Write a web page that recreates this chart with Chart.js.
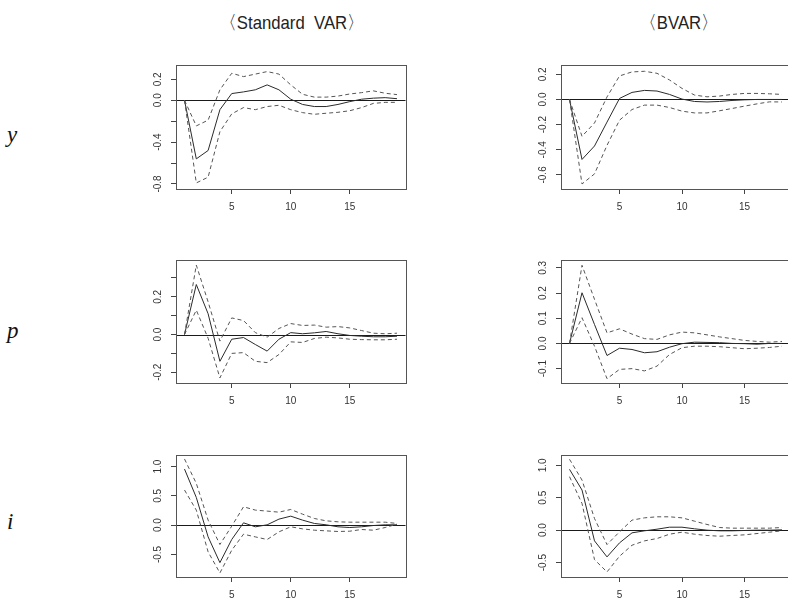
<!DOCTYPE html>
<html>
<head>
<meta charset="utf-8">
<script src="https://cdn.jsdelivr.net/npm/chart.js@4.4.1/dist/chart.umd.min.js"></script>
<style>
    html, body { margin: 0; padding: 0; background: #fff; width: 788px; height: 603px; overflow: hidden; }
    canvas { position: absolute; }
    .head { position: absolute; top: 10px; font-family: "Liberation Sans", Arial, sans-serif; font-size: 19px; color: #222; white-space: pre; transform: translateX(-50%) scaleX(0.88); }
    .var { position: absolute; left: 7px; font-family: "Liberation Serif", "DejaVu Serif", serif; font-style: italic; font-size: 23px; color: #111; }
</style>
</head>
<body>
<div class="head" style="left:292px">〈Standard  VAR〉</div>
<div class="head" style="left:679px">〈BVAR〉</div>
<div class="var" style="top:122px">y</div>
<div class="var" style="top:318px">p</div>
<div class="var" style="top:509px">i</div>

<script>
// horizons
const periodsSV = [1, 2, 3, 4, 5, 6, 7, 8, 9, 10, 11, 12, 13, 14, 15, 16, 17, 18, 19];
const periodsBV = [1, 2, 3, 4, 5, 6, 7, 8, 9, 10, 11, 12, 13, 14, 15, 16, 17, 18];
const xTicks = [5, 10, 15];

// Standard VAR, response of y
const svY_mid = [0, -0.56, -0.48, -0.09, 0.064, 0.08, 0.10, 0.147, 0.10, 0.01, -0.04, -0.06, -0.06, -0.04, -0.013, 0.01, 0.02, 0.025, 0.015];
const svY_up = [0, -0.245, -0.19, 0.10, 0.258, 0.226, 0.25, 0.274, 0.25, 0.147, 0.057, 0.03, 0.03, 0.04, 0.06, 0.073, 0.09, 0.067, 0.054];
const svY_lo = [0, -0.79, -0.735, -0.30, -0.13, -0.07, -0.09, -0.06, -0.048, -0.09, -0.118, -0.134, -0.124, -0.115, -0.1, -0.07, -0.03, -0.02, -0.02];
// BVAR, response of y
const bvY_mid = [0, -0.477, -0.37, -0.18, 0.008, 0.056, 0.072, 0.067, 0.04, 0.003, -0.016, -0.02, -0.016, -0.008, -0.003, 0, 0, 0];
const bvY_up = [0, -0.293, -0.187, 0.02, 0.187, 0.219, 0.224, 0.208, 0.155, 0.088, 0.035, 0.021, 0.027, 0.04, 0.048, 0.048, 0.045, 0.04];
const bvY_lo = [0, -0.672, -0.592, -0.365, -0.165, -0.08, -0.045, -0.045, -0.064, -0.093, -0.107, -0.107, -0.09, -0.072, -0.053, -0.035, -0.019, -0.02];

// Standard VAR, response of p
const svP_mid = [0, 0.265, 0.11, -0.142, -0.025, -0.016, -0.053, -0.088, -0.025, 0.01, 0.004, 0.009, 0.016, 0.004, -0.005, -0.009, -0.012, -0.012, -0.009];
const svP_up = [0, 0.368, 0.173, -0.035, 0.088, 0.074, 0.01, -0.014, 0.032, 0.058, 0.048, 0.05, 0.039, 0.042, 0.035, 0.021, 0.007, 0.004, 0.007];
const svP_lo = [0, 0.129, -0.02, -0.23, -0.10, -0.096, -0.142, -0.149, -0.106, -0.039, -0.042, -0.021, -0.014, -0.018, -0.025, -0.027, -0.028, -0.028, -0.025];
// BVAR, response of p
const bvP_mid = [0, 0.201, 0.075, -0.048, -0.019, -0.024, -0.037, -0.033, -0.015, -0.001, 0.005, 0.004, 0.003, 0, -0.001, -0.003, 0, 0];
const bvP_up = [0, 0.31, 0.175, 0.042, 0.058, 0.037, 0.019, 0.016, 0.034, 0.045, 0.042, 0.034, 0.026, 0.019, 0.012, 0.008, 0.005, 0.008];
const bvP_lo = [0, 0.102, -0.011, -0.14, -0.103, -0.1, -0.109, -0.09, -0.044, -0.017, -0.011, -0.011, -0.013, -0.017, -0.021, -0.019, -0.016, -0.011];

// Standard VAR, response of i
const svI_mid = [0.958, 0.473, -0.2, -0.64, -0.245, 0.04, -0.028, 0.006, 0.103, 0.154, 0.086, 0.029, 0.006, -0.028, -0.04, -0.028, -0.006, 0.006, 0.006];
const svI_up = [1.13, 0.713, 0.086, -0.33, -0.017, 0.314, 0.257, 0.24, 0.222, 0.268, 0.188, 0.114, 0.074, 0.057, 0.051, 0.051, 0.051, 0.051, 0.029];
const svI_lo = [0.6, 0.257, -0.456, -0.816, -0.428, -0.154, -0.2, -0.245, -0.114, -0.028, -0.063, -0.086, -0.097, -0.108, -0.103, -0.074, -0.086, -0.04, 0.017];
// BVAR, response of i
const bvI_mid = [0.938, 0.619, -0.165, -0.412, -0.196, -0.041, -0.01, 0.015, 0.046, 0.046, 0.021, 0, -0.01, -0.01, -0.005, 0, 0, 0.005];
const bvI_up = [1.093, 0.773, 0.18, -0.222, -0.026, 0.155, 0.19, 0.206, 0.206, 0.19, 0.139, 0.088, 0.041, 0.031, 0.031, 0.031, 0.031, 0.041];
const bvI_lo = [0.825, 0.412, -0.454, -0.644, -0.402, -0.232, -0.165, -0.129, -0.062, -0.031, -0.062, -0.082, -0.093, -0.082, -0.072, -0.052, -0.031, -0.01];

// y-axis ticks and which of them carry a label
const yTicksY_sv = [-0.8, -0.6, -0.4, -0.2, 0, 0.2];
const yLabelsY_sv = [-0.8, -0.4, 0, 0.2];
const yTicksY_bv = [-0.6, -0.4, -0.2, 0, 0.2];
const yTicksP_sv = [-0.2, -0.1, 0, 0.1, 0.2, 0.3];
const yLabelsP_sv = [-0.2, 0, 0.2];
const yTicksP_bv = [-0.1, 0, 0.1, 0.2, 0.3];
const yTicksI = [-0.5, 0, 0.5, 1];

// axis ranges (R style, 4% padding)
const xRangeSV = [0.28, 19.72];
const xRangeBV = [0.32, 18.68];
const yRangeY_sv = [-0.848, 0.337];
const yRangeY_bv = [-0.712, 0.274];
const yRangeP_sv = [-0.257, 0.395];
const yRangeP_bv = [-0.157, 0.331];
const yRangeI_sv = [-0.885, 1.198];
const yRangeI_bv = [-0.722, 1.159];

// box + zero line
const frame = {
    id: 'frame',
    beforeDatasetsDraw(chart) {
        const a = chart.chartArea;
        const y0 = Math.round(chart.scales.y.getPixelForValue(0)) + 0.5;
        const ctx = chart.ctx;
        ctx.save();
        ctx.strokeStyle = '#1a1a1a';
        ctx.lineWidth = 1;
        ctx.beginPath();
        ctx.moveTo(a.left, y0);
        ctx.lineTo(a.right, y0);
        ctx.stroke();
        ctx.restore();
    },
    afterDraw(chart) {
        const a = chart.chartArea;
        const ctx = chart.ctx;
        ctx.save();
        ctx.strokeStyle = '#555';
        ctx.lineWidth = 1;
        const l = Math.round(a.left) + 0.5, t = Math.round(a.top) + 0.5;
        ctx.strokeRect(l, t, Math.round(a.right) - Math.round(a.left), Math.round(a.bottom) - Math.round(a.top));
        ctx.restore();
    }
};

const tickFont = { family: '"Liberation Sans", Arial, sans-serif', size: 10 };

function panel(boxLeft, boxTop, boxH, periods, mid, up, lo, xRange, yRange, yTicks, yLabels) {
    const canvas = document.createElement('canvas');
    const W = 272, H = 2 + boxH + 35;
    canvas.width = W;
    canvas.height = H;
    canvas.style.left = (boxLeft - 40) + 'px';
    canvas.style.top = (boxTop - 2) + 'px';
    document.body.appendChild(canvas);

    const pts = arr => arr.map((v, i) => ({ x: periods[i], y: v }));
    const band = { borderColor: '#555', borderWidth: 1, borderDash: [4, 3], pointRadius: 0, tension: 0, fill: false };

    new Chart(canvas.getContext('2d'), {
        type: 'line',
        data: {
            datasets: [
                { label: 'upper', data: pts(up), ...band },
                { label: 'lower', data: pts(lo), ...band },
                { label: 'irf', data: pts(mid), borderColor: '#2a2a2a', borderWidth: 1, pointRadius: 0, tension: 0, fill: false }
            ]
        },
        options: {
            responsive: false,
            animation: false,
            layout: { padding: { top: 2, right: W - 40 - 229.5, bottom: 0, left: 0 } },
            plugins: { legend: { display: false }, tooltip: { enabled: false } },
            scales: {
                x: {
                    type: 'linear',
                    min: xRange[0],
                    max: xRange[1],
                    afterBuildTicks: s => { s.ticks = xTicks.map(v => ({ value: v })); },
                    afterFit: s => { s.height = 35; s.paddingLeft = 0; s.paddingRight = 0; },
                    border: { display: false },
                    grid: { drawOnChartArea: false, drawTicks: true, tickLength: 5, color: '#444' },
                    ticks: { font: tickFont, color: '#333', padding: 7, maxRotation: 0, autoSkip: false, callback: v => String(v) }
                },
                y: {
                    min: yRange[0],
                    max: yRange[1],
                    afterBuildTicks: s => { s.ticks = yTicks.map(v => ({ value: v })); },
                    afterFit: s => { s.width = 40; s.paddingTop = 0; s.paddingBottom = 0; },
                    border: { display: false },
                    grid: { drawOnChartArea: false, drawTicks: true, tickLength: 5, color: '#444' },
                    ticks: {
                        font: tickFont, color: '#333', padding: 4, autoSkip: false,
                        minRotation: 90, maxRotation: 90, crossAlign: 'center',
                        callback: v => (yLabels.some(l => Math.abs(l - v) < 1e-9) ? v.toFixed(1) : '')
                    }
                }
            }
        },
        plugins: [frame]
    });
}

document.addEventListener('DOMContentLoaded', function() {
    panel(176, 65, 124, periodsSV, svY_mid, svY_up, svY_lo, xRangeSV, yRangeY_sv, yTicksY_sv, yLabelsY_sv);
    panel(561, 65, 124, periodsBV, bvY_mid, bvY_up, bvY_lo, xRangeBV, yRangeY_bv, yTicksY_bv, yTicksY_bv);
    panel(176, 259.5, 123, periodsSV, svP_mid, svP_up, svP_lo, xRangeSV, yRangeP_sv, yTicksP_sv, yLabelsP_sv);
    panel(561, 259.5, 123, periodsBV, bvP_mid, bvP_up, bvP_lo, xRangeBV, yRangeP_bv, yTicksP_bv, yTicksP_bv);
    panel(176, 455, 122, periodsSV, svI_mid, svI_up, svI_lo, xRangeSV, yRangeI_sv, yTicksI, yTicksI);
    panel(561, 455, 122, periodsBV, bvI_mid, bvI_up, bvI_lo, xRangeBV, yRangeI_bv, yTicksI, yTicksI);
});
</script>
</body>
</html>
